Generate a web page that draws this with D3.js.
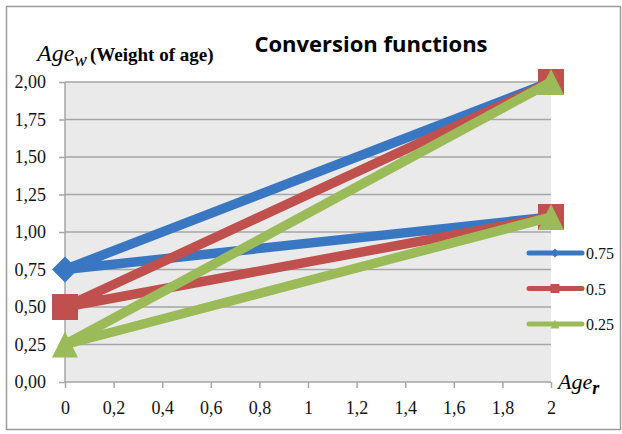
<!DOCTYPE html>
<html><head><meta charset="utf-8">
<script src="https://cdn.jsdelivr.net/npm/d3@7"></script>
<style>body{margin:0;background:#fff}svg{display:block}</style>
</head><body><svg id="c" width="622" height="434"></svg>
<script>
// Data
const seriesNames = ["0.75", "0.5", "0.25"];
const seriesColors = ["#3A77C3", "#C0504D", "#9BBB59"];
const seriesMarkers = ["diamond", "square", "triangle"];
const xValues = [2, 0, 2];
const y075 = [2.0, 0.75, 1.1];
const y050 = [2.0, 0.5, 1.1];
const y025 = [2.0, 0.25, 1.1];
const seriesValues = [y075, y050, y025];
const xTicks = [0, 0.2, 0.4, 0.6, 0.8, 1, 1.2, 1.4, 1.6, 1.8, 2];
const yTicks = [0, 0.25, 0.5, 0.75, 1, 1.25, 1.5, 1.75, 2];
const title = "Conversion functions";

const svg = d3.select("#c");
const SERIF = "Liberation Serif";
const L = 65, R = 551, T = 82, B = 382;
const x = d3.scaleLinear().domain([0, 2]).range([L, R]);
const y = d3.scaleLinear().domain([0, 2]).range([B, T]);
const fmt = d => d3.format(".2f")(d).replace(".", ",");
const fmtX = d => String(d).replace(".", ",");

// outer border
svg.append("rect").attr("x", 6.5).attr("y", 6.5).attr("width", 614).attr("height", 423)
  .attr("fill", "#fff").attr("stroke", "#9a9a9a").attr("stroke-width", 1.5);

// plot bg
svg.append("rect").attr("x", L).attr("y", T).attr("width", R - L).attr("height", B - T).attr("fill", "#EAEAEA");

// grid
svg.append("g").selectAll("line").data(yTicks.filter(d => d > 0)).join("line")
  .attr("x1", L).attr("x2", R).attr("y1", d => y(d)).attr("y2", d => y(d))
  .attr("stroke", "#A6A6A6").attr("stroke-width", 1.5);

// axes
const yAxis = d3.axisLeft(y).tickValues(yTicks).tickFormat(fmt).tickSize(6).tickPadding(13);
const gy = svg.append("g").attr("transform", `translate(${L},0)`).call(yAxis);
const xAxis = d3.axisBottom(x).tickValues(xTicks).tickFormat(fmtX).tickSize(6).tickPadding(14);
const gx = svg.append("g").attr("transform", `translate(0,${B})`).call(xAxis);
[gy, gx].forEach(g => {
  g.attr("font-family", SERIF).attr("font-size", 18);
  g.select(".domain").attr("stroke", "#A6A6A6").attr("stroke-width", 1.5);
  g.selectAll(".tick line").attr("stroke", "#A6A6A6").attr("stroke-width", 1.5);
  g.selectAll("text").style("font-family", SERIF).style("font-size", "18px").attr("fill", "#111");
});
gy.select(".domain").attr("d", `M0,${B}V${T}`);
gx.select(".domain").attr("d", `M${L},0H${R}`);
gx.selectAll("text").attr("dy", "0.68em");

function sym(type, s) {
  const h = s / 2;
  if (type === "diamond") return `M0,${-h}L${h},0L0,${h}L${-h},0Z`;
  if (type === "square") return `M${-h},${-h}H${h}V${h}H${-h}Z`;
  return `M0,${-h}L${h},${h}H${-h}Z`;
}

// series
const line = d3.line().x((d, i) => x(xValues[i])).y(d => y(d));
seriesValues.forEach((vals, si) => {
  const g = svg.append("g");
  g.append("path").attr("d", line(vals)).attr("fill", "none")
    .attr("stroke", seriesColors[si]).attr("stroke-width", 9.5).attr("stroke-linejoin", "miter");
  g.selectAll("path.m").data(vals).join("path").attr("class", "m")
    .attr("d", sym(seriesMarkers[si], 26))
    .attr("transform", (d, i) => `translate(${x(xValues[i])},${y(d)})`)
    .attr("fill", seriesColors[si]);
});

// legend
const lg = svg.append("g");
seriesNames.forEach((n, i) => {
  const ly = 253 + i * 35.5;
  lg.append("line").attr("x1", 529).attr("x2", 582).attr("y1", ly).attr("y2", ly)
    .attr("stroke", seriesColors[i]).attr("stroke-width", 5).attr("stroke-linecap", "round");
  lg.append("path").attr("d", sym(seriesMarkers[i], 9))
    .attr("transform", `translate(555,${ly})`).attr("fill", seriesColors[i]);
  lg.append("text").attr("x", 586).attr("y", ly + 6).text(n)
    .style("font-family", SERIF).style("font-size", "16px").attr("fill", "#111");
});

// title
svg.append("text").attr("x", 371).attr("y", 52).attr("text-anchor", "middle")
  .style("font-family", "Open Sans").style("font-weight", "bold")
  .style("font-size", "22px").attr("fill", "#000").text(title);

// y axis title
const yt = svg.append("text").attr("x", 37).attr("y", 61).style("font-family", SERIF).attr("fill", "#000");
yt.append("tspan").style("font-style", "italic").style("font-size", "24px").text("Age");
yt.append("tspan").style("font-style", "italic").style("font-size", "19px").attr("dy", 5).text("w");
yt.append("tspan").style("font-weight", "bold").style("font-size", "19px").attr("dy", -5).attr("dx", 3).text("(Weight of age)");

// x axis title
const xt = svg.append("text").attr("x", 558).attr("y", 389).style("font-family", SERIF).attr("fill", "#000");
xt.append("tspan").style("font-style", "italic").style("font-size", "22px").text("Age");
xt.append("tspan").style("font-style", "italic").style("font-weight", "bold").style("font-size", "18px").attr("dy", 5).text("r");
</script></body></html>
